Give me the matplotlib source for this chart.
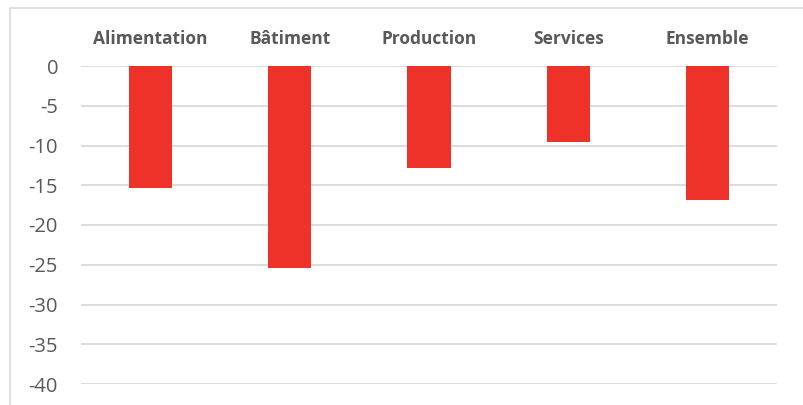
import matplotlib
matplotlib.use("Agg")
import matplotlib.pyplot as plt
from matplotlib.patches import Rectangle

# Sector values (change, %)
categories = ["Alimentation", "Bâtiment", "Production", "Services", "Ensemble"]
values = [-15.3, -25.4, -12.8, -9.5, -16.9]
yticks = [0, -5, -10, -15, -20, -25, -30, -35, -40]

BAR_COLOR = "#EE3129"
GRID_COLOR = "#D9D9D9"
TEXT_COLOR = "#595959"

fig = plt.figure(figsize=(8.04, 4.05), dpi=100)
ax = fig.add_axes([81 / 804, 1 - 384 / 405, (777 - 81) / 804, (384 - 66) / 405])

x = range(len(categories))
ax.bar(x, values, width=0.31, color=BAR_COLOR, zorder=3)

ax.set_xlim(-0.5, len(categories) - 0.5)
ax.set_ylim(-40, 0)
ax.set_yticks(yticks)
ax.set_yticklabels([str(v) for v in yticks], fontsize=14.5, color=TEXT_COLOR,
                   family=["Open Sans", "DejaVu Sans"])
ax.tick_params(axis="y", length=0, pad=16.5)

ax.xaxis.tick_top()
ax.set_xticks(list(x))
ax.set_xticklabels(categories, fontsize=12.5, fontweight="bold", color=TEXT_COLOR,
                   family=["Open Sans", "DejaVu Sans"])
ax.tick_params(axis="x", length=0, pad=12.6)

ax.yaxis.grid(True, color=GRID_COLOR, linewidth=1.3, zorder=0)
ax.set_axisbelow(True)
for s in ax.spines.values():
    s.set_visible(False)

# outer chart frame
fig.patches.append(Rectangle((10 / 804, -0.1), 1.2, 1 - 8 / 405 + 0.1,
                             transform=fig.transFigure, fill=False,
                             edgecolor=GRID_COLOR, linewidth=1.2))

fig.savefig("out.png", dpi=100)
